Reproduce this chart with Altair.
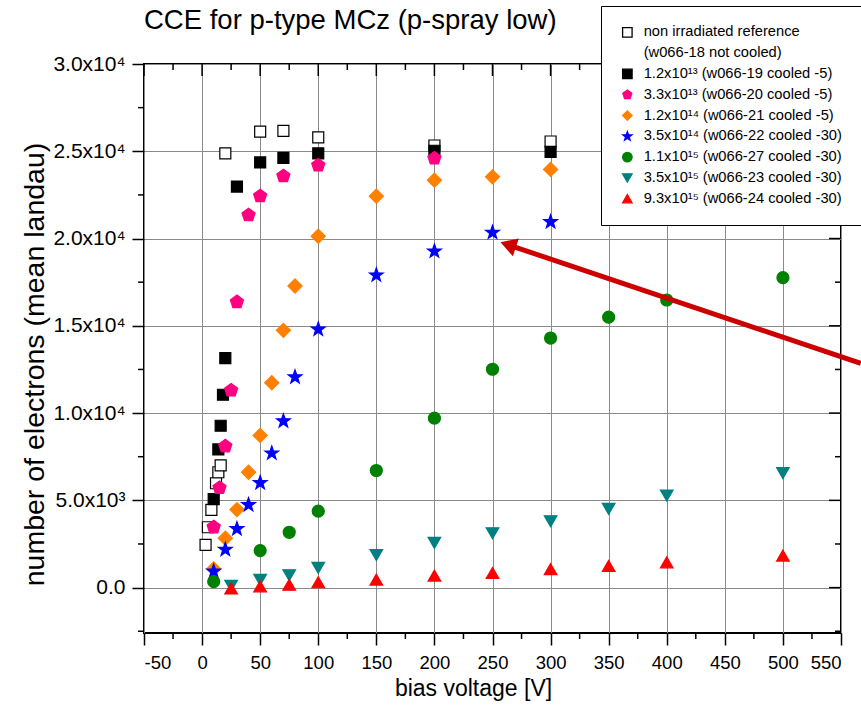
import altair as alt
import pandas as pd

FONT = "Liberation Sans, Arial, Helvetica, sans-serif"

# ---------------- data ----------------
v_ref = [3, 5, 8, 12, 14, 16, 20, 50, 70, 100, 200, 300]
n_ref = [2450, 3460, 4450, 5980, 6610, 7000, 24880, 26120, 26170, 25800, 25330, 25560]

v_19 = [10, 14, 16, 18, 20, 30, 50, 70, 100, 200, 300]
n_19 = [5065, 7915, 9275, 11050, 13150, 22980, 24360, 24625, 24880, 25030, 24970]

v_20 = [10, 15, 20, 25, 30, 40, 50, 70, 100, 200]
n_20 = [3460, 5720, 8100, 11300, 16365, 21340, 22430, 23575, 24190, 24590]

v_21 = [10, 20, 30, 40, 50, 60, 70, 80, 100, 150, 200, 250, 300]
n_21 = [1070, 2830, 4470, 6610, 8720, 11740, 14740, 17280, 20130, 22430, 23345, 23535, 23960]

v_22 = [10, 20, 30, 40, 50, 60, 70, 80, 100, 150, 200, 250, 300]
n_22 = [935, 2180, 3365, 4740, 6005, 7700, 9540, 12060, 14800, 17900, 19270, 20345, 20955]

v_27 = [10, 50, 75, 100, 150, 200, 250, 300, 350, 400, 500]
n_27 = [345, 2120, 3170, 4380, 6710, 9710, 12510, 14300, 15495, 16480, 17760]

v_23 = [25, 50, 75, 100, 150, 200, 250, 300, 350, 400, 500]
n_23 = [100, 440, 710, 1130, 1870, 2560, 3115, 3800, 4510, 5280, 6560]

v_24 = [25, 50, 75, 100, 150, 200, 250, 300, 350, 400, 500]
n_24 = [-50, 75, 170, 305, 460, 690, 840, 1060, 1250, 1450, 1835]

labels = [
    "non irradiated reference",
    "(w066-18 not cooled)",
    "1.2x10¹³ (w066-19 cooled -5)",
    "3.3x10¹³ (w066-20 cooled -5)",
    "1.2x10¹⁴ (w066-21 cooled -5)",
    "3.5x10¹⁴ (w066-22 cooled -30)",
    "1.1x10¹⁵ (w066-27 cooled -30)",
    "3.5x10¹⁵ (w066-23 cooled -30)",
    "9.3x10¹⁵ (w066-24 cooled -30)",
]

series_data = [
    (labels[0], v_ref, n_ref),
    (labels[2], v_19, n_19),
    (labels[3], v_20, n_20),
    (labels[4], v_21, n_21),
    (labels[5], v_22, n_22),
    (labels[6], v_27, n_27),
    (labels[7], v_23, n_23),
    (labels[8], v_24, n_24),
]

# axis tick values
x_major = list(range(-50, 551, 50))
x_minor = list(range(-25, 526, 50))
y_major = list(range(0, 30001, 5000))
y_minor = list(range(-2500, 27501, 5000))

# annotation arrow (head centre -> tail), data coordinates
arrow_v = [263.5, 567]
arrow_n = [19640, 12850]

# ---------------- styles ----------------
PENTAGON = "M0,-1L0.951,-0.309L0.588,0.809L-0.588,0.809L-0.951,-0.309Z"
STAR = ("M0,-1L0.235,-0.324L0.951,-0.309L0.380,0.124L0.588,0.809L0,0.4"
        "L-0.588,0.809L-0.380,0.124L-0.951,-0.309L-0.235,-0.324Z")
shapes = ["square", "square", "square", PENTAGON, "diamond", STAR, "circle",
          "triangle-down", "triangle-up"]
fills = ["#FFFFFF", "transparent", "#000000", "#FF0080", "#FF8000", "#0000FF",
         "#008000", "#008080", "#FF0000"]
strokes = ["#000000", "transparent", "#000000", "#FF0080", "#FF8000", "#0000FF",
           "#008000", "#008080", "#FF0000"]
sizes = [121, 0, 121, 190, 200, 210, 144, 160, 160]
size_of = dict(zip(labels, sizes))

rows = []
for name, vs, ns in series_data:
    for v, n in zip(vs, ns):
        rows.append({"series": name, "volt": v, "n": n, "sz": size_of[name]})
df = pd.DataFrame(rows)

W, H = 697, 569
xs = alt.Scale(domain=[-50, 550], nice=False, zero=False)
ys = alt.Scale(domain=[-2600, 30000], nice=False, zero=False)

leg = alt.Legend(
    title=None, orient="none", legendX=457, legendY=-58,
    padding=19, rowPadding=4.8, labelOffset=9,
    labelFontSize=14.7, labelFont=FONT, labelColor="black", labelLimit=400,
    symbolSize=90, symbolStrokeWidth=1.3,
    strokeColor="black", fillColor="white",
)

x_axis = alt.Axis(
    values=x_major,
    labelExpr="'' + datum.value",
    tickSize=12, tickColor="black", tickWidth=1.5,
    grid=True, gridColor="#8a8a8a", gridWidth=1,
    domain=False,
    labelFont=FONT, labelFontSize=18.5, labelColor="black", labelPadding=8,
    labelOverlap=False,
    title="bias voltage [V]", titleFont=FONT, titleFontSize=23,
    titleFontWeight="normal", titleColor="black",
    titleX=329, titleY=55, titleBaseline="middle", titleAlign="center",
)

y_axis = alt.Axis(
    values=y_major,
    labelExpr=("datum.value === 0 ? '0.0' : "
               "(datum.value < 10000 ? format(datum.value/1000, '.1f') + 'x10³' : "
               "format(datum.value/10000, '.1f') + 'x10⁴')"),
    tickSize=12, tickColor="black", tickWidth=1.5,
    grid=True, gridColor="#8a8a8a", gridWidth=1,
    domain=False,
    labelFont=FONT, labelFontSize=21, labelColor="black", labelPadding=7,
    labelOverlap=False,
    title="number of electrons (mean landau)", titleFont=FONT, titleFontSize=28.5,
    titleFontWeight="normal", titleColor="black",
    titleX=-110, titleY=300, titleAngle=270, titleBaseline="middle", titleAlign="center",
)


def X(field):
    return alt.X(field, scale=xs, axis=x_axis)


def Y(field):
    return alt.Y(field, scale=ys, axis=y_axis)


points = alt.Chart(df).mark_point(filled=True, opacity=1, strokeWidth=1.2).encode(
    x=X("volt:Q"),
    y=Y("n:Q"),
    shape=alt.Shape("series:N", scale=alt.Scale(domain=labels, range=shapes), legend=leg),
    fill=alt.Fill("series:N", scale=alt.Scale(domain=labels, range=fills), legend=leg),
    stroke=alt.Stroke("series:N", scale=alt.Scale(domain=labels, range=strokes), legend=leg),
    size=alt.Size("sz:Q", scale=None),
)


def xticks(vals, y0, y1):
    return alt.Chart(pd.DataFrame({"volt": vals})).mark_rule(
        color="black", strokeWidth=1.5, clip=False).encode(
        x=X("volt:Q"), y=alt.value(y0), y2=alt.value(y1))


def yticks(vals, x0, x1):
    return alt.Chart(pd.DataFrame({"n": vals})).mark_rule(
        color="black", strokeWidth=1.5, clip=False).encode(
        y=Y("n:Q"), x=alt.value(x0), x2=alt.value(x1))


arrow_df = pd.DataFrame({"volt": arrow_v, "n": arrow_n})
arrow_line = alt.Chart(arrow_df).mark_line(color="#CC0000", strokeWidth=5, clip=False).encode(
    x=X("volt:Q"), y=Y("n:Q"))
arrow_head = alt.Chart(arrow_df.iloc[[0]]).mark_point(
    shape="triangle-up", angle=288.6, size=350, filled=True, opacity=1,
    color="#CC0000", clip=False).encode(x=X("volt:Q"), y=Y("n:Q"))

chart = alt.layer(
    points,
    xticks(x_major, 0, 12), xticks(x_minor, 0, 6),          # top, inward
    xticks(x_minor, H, H + 6),                              # bottom minor, outward
    yticks(y_major, W, W - 12), yticks(y_minor, W, W - 6),  # right, inward
    yticks(y_minor, 0, -6),                                 # left minor, outward
    arrow_line, arrow_head,
).properties(
    width=W, height=H,
    title=alt.TitleParams("CCE for p-type MCz (p-spray low)", anchor="start",
                          frame="group",
                          font=FONT, fontSize=27.5, fontWeight="normal", color="black",
                          offset=30, dy=81, baseline="alphabetic"),
    autosize=alt.AutoSizeParams(type="none"),
    padding={"left": 144, "top": 64, "right": 20, "bottom": 84},
).configure_view(stroke="black", strokeWidth=2)

chart.save("out.html", embed_options={"renderer": "svg", "actions": False})
